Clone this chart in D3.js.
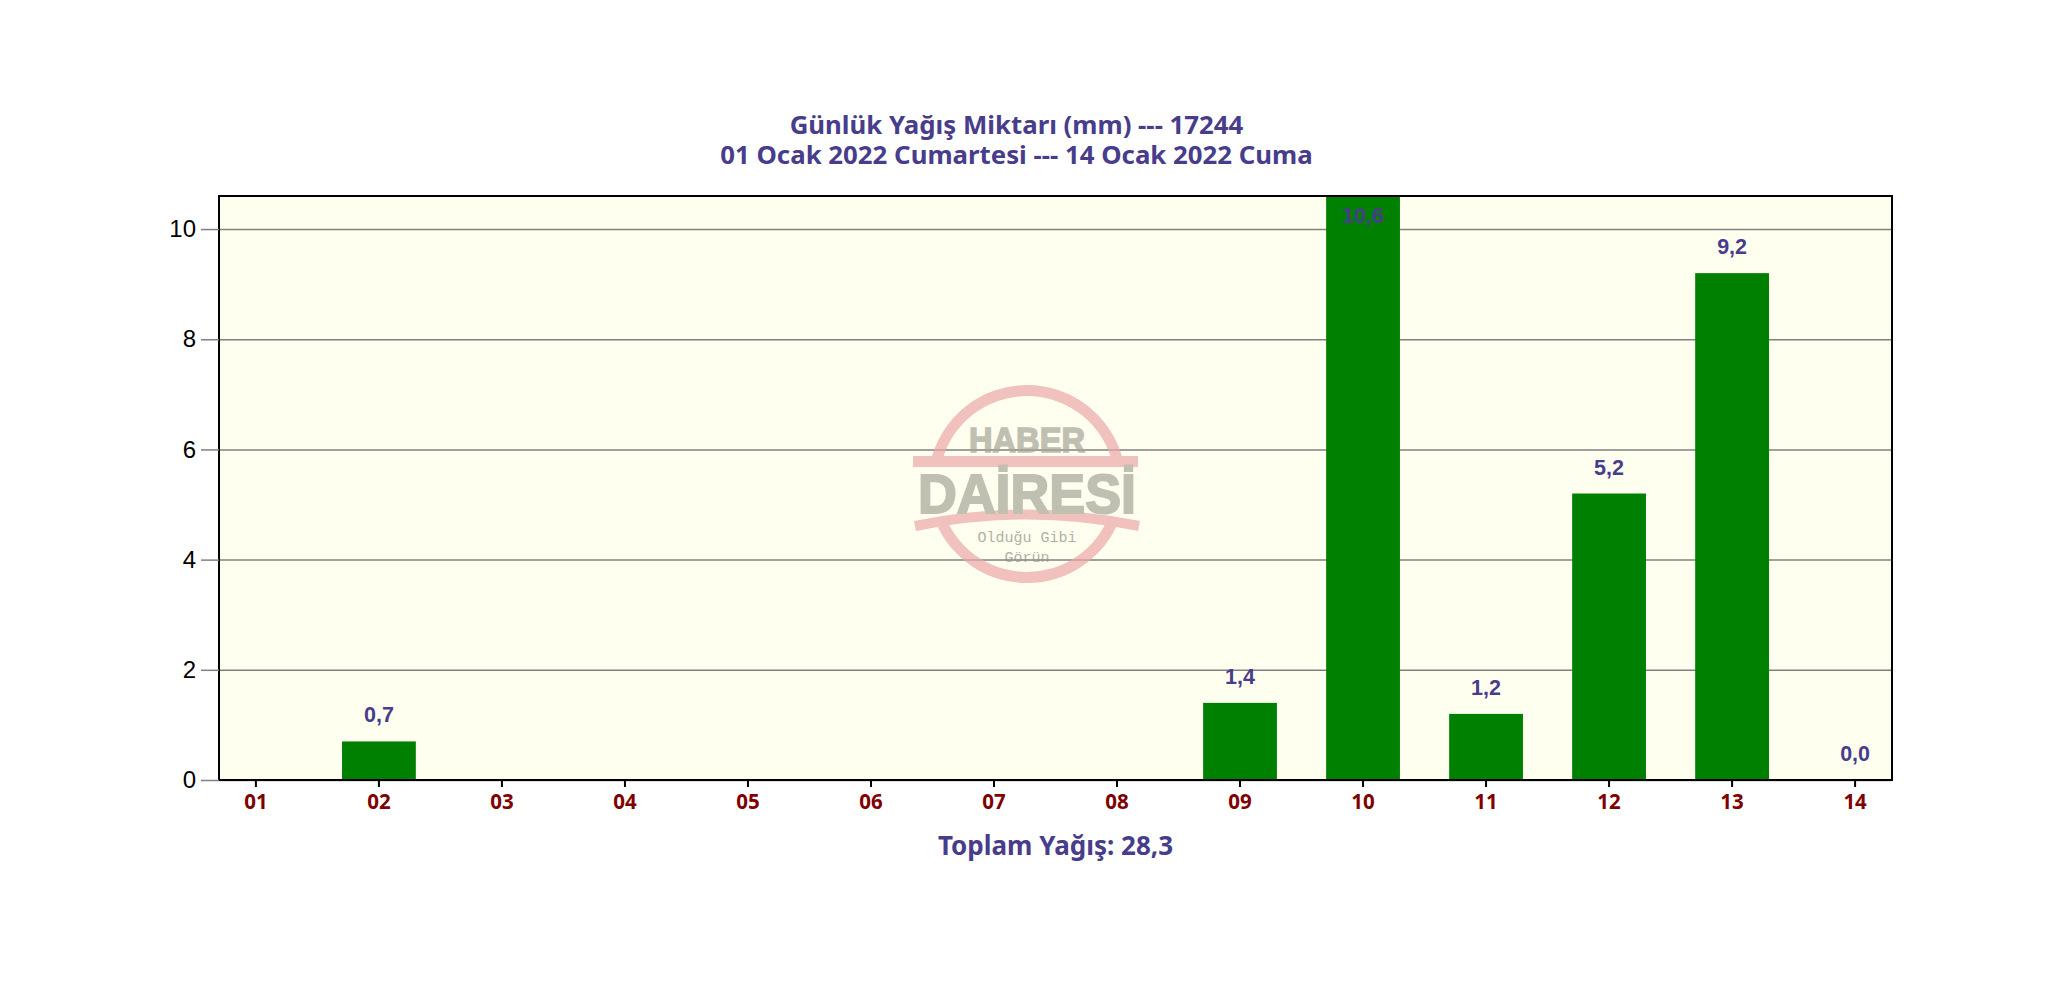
<!DOCTYPE html>
<html>
<head>
<meta charset="utf-8">
<script src="https://cdn.jsdelivr.net/npm/d3@7"></script>
<style>
    html, body { margin: 0; background: #fff; }
    svg { display: block; }
</style>
</head>
<body>
<div class="my_chart"></div>
<script>
const days = ["01", "02", "03", "04", "05", "06", "07", "08", "09", "10", "11", "12", "13", "14"]
const rainfall = [null, 0.7, null, null, null, null, null, null, 1.4, 10.6, 1.2, 5.2, 9.2, 0.0]
const yTicks = [0, 2, 4, 6, 8, 10]
const titleLines = ["Günlük Yağış Miktarı (mm) --- 17244", "01 Ocak 2022 Cumartesi --- 14 Ocak 2022 Cuma"]
const totalLabel = "Toplam Yağış: 28,3"

const margin = {top: 196, right: 156, bottom: 228, left: 219},
    width = 2048 - margin.left - margin.right,
    height = 1008 - margin.top - margin.bottom

const tahoma = "'Noto Sans', sans-serif"
const arial = "'Liberation Sans', Arial, sans-serif"
const titleColor = "#483d8b"

const root = d3.select(".my_chart")
    .append("svg")
    .attr("width", 2048)
    .attr("height", 1008)

// titles sit a little left of the plot centre
root.selectAll("text.title")
    .data(titleLines)
    .enter()
    .append("text")
    .attr("class", "title")
    .attr("x", margin.left + width / 2 - 39)
    .attr("y", (d, i) => 134 + i * 30)
    .attr("text-anchor", "middle")
    .style("font", "bold 25.8px " + tahoma)
    .style("fill", titleColor)
    .text(d => d)

const svg = root.append("g")
    .attr("transform", "translate(" + margin.left + "," + margin.top + ")")

const x = d3.scaleBand()
    .domain(days)
    .range([0, width])
    .paddingInner(0.4)
    .paddingOuter(0)

const y = d3.scaleLinear()
    .domain([0, 10.6])
    .range([height, 0])

svg.append("rect")
    .attr("width", width)
    .attr("height", height)
    .style("fill", "#fffff0")

// grid lines
const grid = svg.append("g")
    .call(d3.axisLeft(y).tickValues(yTicks).tickSize(-width).tickFormat(""))
grid.select(".domain").remove()
grid.selectAll("line").style("stroke", "#808080").style("stroke-width", 1.5)

// watermark
const mark = svg.append("g")
    .attr("transform", "translate(" + (1027 - margin.left) + "," + (484 - margin.top) + ")")
    .style("opacity", 0.7)

const ring = d3.arc().innerRadius(88).outerRadius(99)
mark.append("path")
    .attr("d", ring({startAngle: -1.34, endAngle: 1.34}))
    .style("fill", "#eaa8a8")
mark.append("path")
    .attr("d", ring({startAngle: Math.PI - 1.12, endAngle: Math.PI + 1.12}))
    .style("fill", "#eaa8a8")
mark.append("rect")
    .attr("x", -114).attr("y", -28)
    .attr("width", 225).attr("height", 11)
    .style("fill", "#eaa8a8")
mark.append("path")
    .attr("d", "M-112,42 Q0,19 112,42")
    .style("fill", "none")
    .style("stroke", "#eaa8a8")
    .style("stroke-width", 10)

mark.append("text")
    .attr("x", 0).attr("y", -32)
    .attr("text-anchor", "middle")
    .attr("textLength", 116)
    .attr("lengthAdjust", "spacingAndGlyphs")
    .style("font", "bold 35px " + arial)
    .style("fill", "#a5a599")
    .style("stroke", "#a5a599")
    .style("stroke-width", 1.5)
    .text("HABER")
mark.append("text")
    .attr("x", 0).attr("y", 29)
    .attr("text-anchor", "middle")
    .attr("textLength", 218)
    .attr("lengthAdjust", "spacingAndGlyphs")
    .style("font", "bold 56px " + arial)
    .style("fill", "#a5a599")
    .style("stroke", "#a5a599")
    .style("stroke-width", 2)
    .text("DAİRESİ")
mark.selectAll("text.motto")
    .data(["Olduğu Gibi", "Görün"])
    .enter()
    .append("text")
    .attr("class", "motto")
    .attr("x", 0)
    .attr("y", (d, i) => 58 + i * 20)
    .attr("text-anchor", "middle")
    .style("font", "15px 'Liberation Mono', monospace")
    .style("fill", "#8f8f85")
    .text(d => d)

// bars, days without rain stay empty
const bars = days.map((d, i) => ({day: d, value: rainfall[i]})).filter(d => d.value !== null)

svg.append("g")
    .selectAll("rect")
    .data(bars)
    .enter()
    .append("rect")
    .attr("x", d => x(d.day))
    .attr("y", d => y(d.value))
    .attr("width", x.bandwidth())
    .attr("height", d => height - y(d.value))
    .style("fill", "#008000")

svg.append("g")
    .selectAll("text")
    .data(bars)
    .enter()
    .append("text")
    .attr("x", d => x(d.day) + x.bandwidth() / 2)
    .attr("y", d => Math.max(y(d.value) - 19, 27))
    .attr("text-anchor", "middle")
    .style("font", "bold 21.5px " + arial)
    .style("fill", titleColor)
    .text(d => d.value.toFixed(1).replace(".", ","))

// frame
svg.append("rect")
    .attr("width", width)
    .attr("height", height)
    .style("fill", "none")
    .style("stroke", "#000")
    .style("stroke-width", 2)

const yAxis = svg.append("g")
    .call(d3.axisLeft(y).tickValues(yTicks).tickSizeInner(18).tickSizeOuter(0).tickPadding(5))
yAxis.select(".domain").remove()
yAxis.selectAll("line").style("stroke", "#808080").style("stroke-width", 1.5)
yAxis.selectAll("text").style("font", "24px " + arial).style("fill", "#000")

const xAxis = svg.append("g")
    .attr("transform", "translate(0," + height + ")")
    .call(d3.axisBottom(x).tickSizeInner(7).tickSizeOuter(0).tickPadding(7))
xAxis.select(".domain").remove()
xAxis.selectAll("line").style("stroke", "#000").style("stroke-width", 2)
xAxis.selectAll("text").style("font", "bold 20.5px " + tahoma).style("fill", "#800000")

root.append("text")
    .attr("x", 1055.5)
    .attr("y", 855)
    .attr("text-anchor", "middle")
    .style("font", "bold 26px " + tahoma)
    .style("fill", titleColor)
    .text(totalLabel)
</script>
</body>
</html>
